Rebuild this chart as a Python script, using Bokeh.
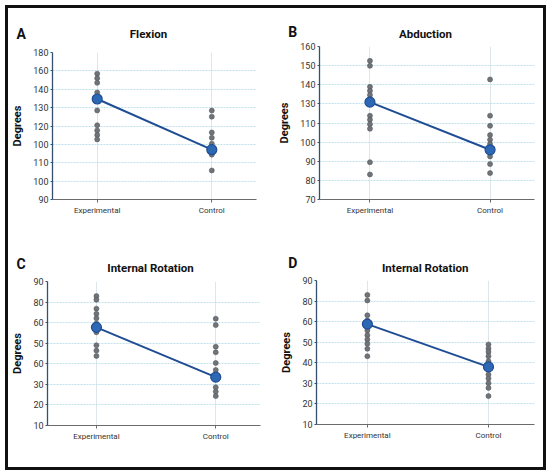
from bokeh.plotting import figure
from bokeh.layouts import row, column
from bokeh.models import FixedTicker
from bokeh.core.properties import value
from bokeh.embed import file_html
from bokeh.resources import INLINE

# ---------------- data ----------------
groups = ["Experimental", "Control"]
group_x = [0, 1]

flex_exp = [158.5, 156.0, 153.5, 148.2, 138.5, 130.4, 127.6, 125.1, 122.7]
flex_ctl = [138.4, 135.1, 126.5, 123.6, 120.4, 114.4, 105.8]
flex_mean = [144.7, 117.1]
flex_ticks = [90, 100, 110, 120, 130, 140, 150, 160, 170]
flex_tick_labels = ["90", "100", "110", "100", "120", "130", "140", "160", "180"]

abd_exp = [142.5, 139.9, 128.9, 126.8, 124.6, 122.5, 113.8, 111.7, 109.4, 107.0, 89.5, 83.1]
abd_ctl = [132.8, 113.8, 108.5, 103.7, 101.2, 99.0, 92.5, 88.5, 83.8]
abd_mean = [120.9, 96.0]
abd_ticks = [70, 80, 90, 100, 110, 120, 130, 140, 150]
abd_tick_labels = ["70", "80", "90", "100", "110", "130", "140", "150", "160"]

ir1_exp = [72.9, 71.1, 66.8, 64.3, 62.1, 59.6, 55.3, 49.0, 46.4, 43.8]
ir1_ctl = [61.9, 58.8, 48.3, 45.6, 40.4, 37.0, 28.6, 26.5, 24.3]
ir1_mean = [57.7, 33.5]
ir1_ticks = [10, 20, 30, 40, 50, 60, 70, 80]
ir1_tick_labels = ["10", "20", "30", "60", "50", "60", "80", "90"]

ir2_exp = [73.0, 70.3, 63.1, 60.6, 55.7, 53.4, 51.3, 49.2, 46.8, 43.2]
ir2_ctl = [48.9, 46.9, 45.3, 43.2, 40.8, 34.3, 32.4, 30.1, 27.8, 23.8]
ir2_mean = [58.8, 38.0]
ir2_ticks = [10, 20, 30, 40, 50, 60, 70, 80]
ir2_tick_labels = ["10", "20", "30", "40", "50", "60", "80", "90"]

panel_letters = ["A", "B", "C", "D"]
panel_titles = ["Flexion", "Abduction", "Internal Rotation", "Internal Rotation"]

BOLD_FONT = "Roboto"
TICK_FONT = "Roboto"


def no_align(p):
    try:
        p.frame_align = False
    except Exception:
        pass


def header(letter, title, w, hh, letter_pos, title_pos):
    h = figure(width=w, height=hh, output_backend="svg", toolbar_location=None,
               x_range=(0, w), y_range=(0, hh), x_axis_type=None, y_axis_type=None,
               min_border=0, title=None)
    no_align(h)
    h.outline_line_color = None
    h.grid.visible = False
    h.background_fill_color = "white"
    h.border_fill_color = "white"
    h.text(x=[letter_pos[0]], y=[letter_pos[1]], text=[letter],
           text_font=value(BOLD_FONT), text_font_style="bold", text_font_size="14px",
           text_color="#111111", text_align="left", text_baseline="alphabetic")
    h.text(x=[title_pos[0]], y=[title_pos[1]], text=[title],
           text_font=value(BOLD_FONT), text_font_style="bold", text_font_size="11.5px",
           text_color="#111111", text_align="center", text_baseline="alphabetic")
    return h


def panel(exp, ctl, mean, ticks, tick_labels, w, h, ml, mr, mt, mb, xr):
    p = figure(width=w, height=h, output_backend="svg", toolbar_location=None,
               x_range=xr, y_range=(ticks[0], ticks[-1]), title=None,
               min_border_left=ml, min_border_right=mr,
               min_border_top=mt, min_border_bottom=mb)
    no_align(p)
    p.outline_line_color = None
    p.background_fill_color = "white"
    p.border_fill_color = "white"

    # axes
    p.xaxis.ticker = FixedTicker(ticks=group_x)
    p.xaxis.major_label_overrides = {gx: g for gx, g in zip(group_x, groups)}
    p.xaxis.axis_line_color = "#6b6b6b"
    p.xaxis.axis_line_width = 1.2
    p.xaxis.major_tick_line_color = "#6b6b6b"
    p.xaxis.major_tick_out = 3
    p.xaxis.major_tick_in = 0
    p.xaxis.minor_tick_line_color = None
    p.xaxis.major_label_text_font = TICK_FONT
    p.xaxis.major_label_text_font_size = "8px"
    p.xaxis.major_label_text_color = "#333333"
    p.xaxis.major_label_standoff = 3

    p.yaxis.ticker = FixedTicker(ticks=ticks)
    p.yaxis.major_label_overrides = {t: l for t, l in zip(ticks, tick_labels)}
    p.yaxis.axis_line_color = "#34506e"
    p.yaxis.axis_line_width = 1.3
    p.yaxis.major_tick_line_color = "#34506e"
    p.yaxis.major_tick_out = 2
    p.yaxis.major_tick_in = 0
    p.yaxis.minor_tick_line_color = None
    p.yaxis.major_label_text_font = TICK_FONT
    p.yaxis.major_label_text_font_size = "9px"
    p.yaxis.major_label_text_color = "#333333"
    p.yaxis.major_label_standoff = 2
    p.yaxis.axis_label = "Degrees"
    p.yaxis.axis_label_text_font = BOLD_FONT
    p.yaxis.axis_label_text_font_style = "bold"
    p.yaxis.axis_label_text_font_size = "11px"
    p.yaxis.axis_label_text_color = "#111111"
    p.yaxis.axis_label_standoff = 6

    # grids
    p.ygrid.grid_line_color = "#bfe0ec"
    p.ygrid.grid_line_dash = "2 1"
    p.ygrid.grid_line_width = 1
    p.xgrid.grid_line_color = "#dfe6ea"
    p.xgrid.grid_line_width = 1

    # marks
    p.line(group_x, mean, line_color="#1f4d94", line_width=2)
    p.scatter([group_x[0]] * len(exp), exp, size=5, fill_color="#707478",
              line_color="#555a5f", line_width=0.6)
    p.scatter([group_x[1]] * len(ctl), ctl, size=5, fill_color="#707478",
              line_color="#555a5f", line_width=0.6)
    p.scatter(group_x, mean, size=10, fill_color="#2c68b4", line_color="#1f4d94",
              line_width=1.2)
    return p


hA = header(panel_letters[0], panel_titles[0], 267, 33, (8, 8), (140, 8))
hB = header(panel_letters[1], panel_titles[1], 268, 33, (12.7, 10), (150, 8))
hC = header(panel_letters[2], panel_titles[2], 267, 38, (8, 11.3), (142, 8))
hD = header(panel_letters[3], panel_titles[3], 268, 38, (12.7, 12.7), (149.7, 8))

pA = panel(flex_exp, flex_ctl, flex_mean, flex_ticks, flex_tick_labels,
           267, 196, 40, 19, 11, 38, (-0.39, 1.39))
pB = panel(abd_exp, abd_ctl, abd_mean, abd_ticks, abd_tick_labels,
           268, 196, 41, 9, 5, 38, (-0.42, 1.37))
pC = panel(ir1_exp, ir1_ctl, ir1_mean, ir1_ticks, ir1_tick_labels,
           267, 192, 39, 15, 6, 42, (-0.41, 1.375))
pD = panel(ir2_exp, ir2_ctl, ir2_mean, ir2_ticks, ir2_tick_labels,
           268, 192, 41, 9, 5, 43, (-0.42, 1.38))

layout = column(row(hA, hB), row(pA, pB), row(hC, hD), row(pC, pD), margin=(5, 0, 0, 5),
                styles={"border": "3px solid #111111", "background-color": "white"})

open("out.html", "w").write(file_html(layout, INLINE))
